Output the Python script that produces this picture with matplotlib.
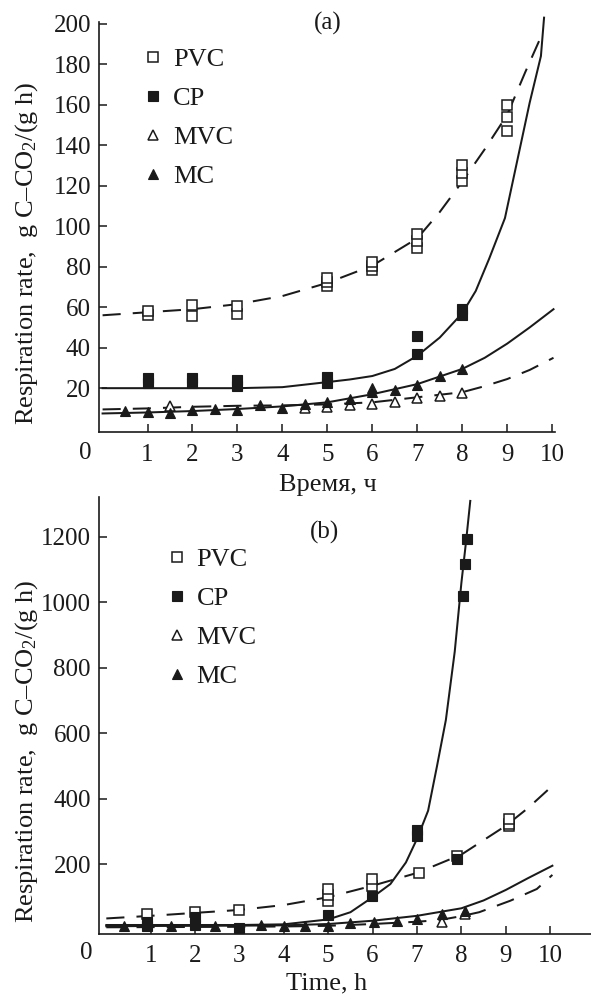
import matplotlib
matplotlib.use("Agg")
import matplotlib.pyplot as plt

plt.rcParams['font.family'] = ['Liberation Serif', 'DejaVu Serif']
plt.rcParams['mathtext.fontset'] = 'custom'
plt.rcParams['mathtext.rm'] = 'Liberation Serif'
plt.rcParams['mathtext.it'] = 'Liberation Serif:italic'

INK = '#1a1a1a'

# ---- panel (a): measured points ----
a_pvc_x = [1, 1, 2, 2, 3, 3, 5, 5, 5, 6, 6, 6, 7, 7, 7, 8, 8, 8, 9, 9, 9]
a_pvc_y = [56, 58, 55.5, 61, 56.5, 60.5, 70.5, 72.5, 74.5, 78.5, 80.5, 82.5,
           89, 92.5, 96, 122.5, 126.5, 130, 147, 154, 160]
a_cp_x = [1, 1, 2, 2, 3, 3, 5, 5, 7, 7, 8, 8]
a_cp_y = [22.5, 25, 22.5, 25, 21, 24, 22.5, 25.5, 37, 46, 56, 59]
a_mvc_x = [1.5, 4.5, 5, 5.5, 6, 6.5, 7, 7.5, 8]
a_mvc_y = [11, 10, 10.7, 11.6, 12.4, 13.2, 15.3, 16.1, 17.6]
a_mc_x = [0.5, 1, 1.5, 2, 2.5, 3, 3.5, 4, 4.5, 5, 5.5, 6, 6, 6.5, 7, 7.5, 8]
a_mc_y = [8.6, 8, 7.5, 9.1, 9.5, 9.1, 11.6, 10.4, 12, 13.2, 14.8, 18, 20,
          18.9, 21.4, 25.8, 29.5]

# ---- panel (a): fitted curves ----
a_pvc_fit_x = [0, 1, 2, 3, 4, 5, 6, 7, 7.5, 8, 8.5, 9, 9.4, 9.8]
a_pvc_fit_y = [56, 57.5, 59, 61.5, 65.5, 72, 80.5, 94, 107, 122, 138, 155, 176, 196]
a_cp_fit_x = [0, 1, 2, 3, 4, 5, 5.5, 6, 6.5, 7, 7.5, 8, 8.3, 8.6, 8.95, 9.5, 9.75, 9.82]
a_cp_fit_y = [20, 20, 20, 20, 20.5, 23, 24.3, 26, 29.5, 36, 45, 57, 68, 84, 104, 161, 184, 203]
a_mvc_fit_x = [0, 1, 2, 3, 4, 5, 6, 7, 8, 8.5, 9, 9.5, 10.03]
a_mvc_fit_y = [9.5, 10, 10.8, 11.3, 11.5, 12, 13, 15.5, 18, 21, 24.5, 29, 35]
a_mc_fit_x = [0, 1, 2, 3, 4, 5, 6, 7, 8, 8.5, 9, 9.5, 10.03]
a_mc_fit_y = [7.5, 8, 8.7, 9.7, 11, 13, 17, 22, 29.5, 35, 42, 50, 59]

# ---- panel (b): measured points ----
b_pvc_x = [0.91, 2.0, 3.0, 4.99, 4.99, 4.99, 5.98, 5.98, 7.04, 7.91, 9.08, 9.08, 9.08]
b_pvc_y = [48.6, 55.6, 61.7, 89, 107.6, 125, 135, 156, 174, 225, 316.5, 323.6, 338.8]
b_cp_x = [0.91, 0.91, 2.0, 2.0, 3.0, 5.0, 5.98, 7.01, 7.01, 7.91, 8.04, 8.08, 8.12]
b_cp_y = [13, 25, 15, 38, 5, 45, 105, 286, 306, 216, 1020, 1117, 1193]
b_mvc_x = [7.57, 8.07]
b_mvc_y = [25, 50]
b_mc_x = [0.4, 1.45, 2.45, 3.49, 4.0, 4.48, 5.0, 5.5, 6.03, 6.54, 6.99, 7.57, 8.07]
b_mc_y = [11, 11, 13, 15, 13, 11, 13, 21, 25, 28, 33, 49, 59]

# ---- panel (b): fitted curves ----
b_pvc_fit_x = [0, 1, 2, 3, 4, 5, 6, 7, 8, 9, 9.5, 10.05]
b_pvc_fit_y = [35, 43, 52, 61, 76, 100, 135, 174, 230, 318, 372, 440]
b_cp_fit_x = [0, 1, 2, 3, 4, 5, 5.5, 6, 6.4, 6.75, 7, 7.25, 7.45, 7.65, 7.85, 8.0, 8.1, 8.2]
b_cp_fit_y = [15, 15, 15, 15, 17, 32, 54, 100, 140, 206, 278, 364, 500, 641, 850, 1060, 1180, 1310]
b_mvc_fit_x = [0, 1, 2, 3, 4, 5, 6, 7, 7.5, 8, 8.4, 9.1, 9.7, 10.05]
b_mvc_fit_y = [8, 8.5, 9, 9.5, 10.5, 12.5, 18, 25, 30, 42, 54, 89, 125, 168]
b_mc_fit_x = [0, 1, 2, 3, 4, 5, 6, 7, 8, 8.5, 9, 9.5, 10.05]
b_mc_fit_y = [11, 12, 12.5, 13, 14, 18, 28, 43, 66, 90, 122, 158, 196]

x_ticks = list(range(1, 11))
a_y_ticks = list(range(20, 201, 20))
b_y_ticks = list(range(200, 1201, 200))
labels = ['PVC', 'CP', 'MVC', 'MC']
ylabel = 'Respiration rate,  g C\u2013CO$_2$/(g h)'

W, H = 591, 999
fig = plt.figure(figsize=(W / 100, H / 100), dpi=100)


def px(x, y):
    # pixel position (from top-left) -> figure fraction
    return x / W, 1 - y / H


def style_axes(ax, pad_x):
    for s in ['top', 'right']:
        ax.spines[s].set_visible(False)
    for s in ['left', 'bottom']:
        ax.spines[s].set_linewidth(1.2)
        ax.spines[s].set_color(INK)
    ax.tick_params(direction='in', length=6, width=1.1, colors=INK, labelsize=18)
    ax.tick_params(axis='x', pad=pad_x)
    ax.tick_params(axis='y', pad=6)
    ax.set_xticks(x_ticks)


def draw(ax, pts, fits):
    lw = 1.45
    (pvx, pvy), (cpx, cpy), (mvx, mvy), (mcx, mcy) = fits
    ax.plot(pvx, pvy, color=INK, lw=lw, dashes=(9, 6), clip_on=False)
    ax.plot(cpx, cpy, color=INK, lw=lw, clip_on=False)
    ax.plot(mvx, mvy, color=INK, lw=lw, dashes=(9, 6), clip_on=False)
    ax.plot(mcx, mcy, color=INK, lw=lw, clip_on=False)
    (pvx, pvy), (cpx, cpy), (mvx, mvy), (mcx, mcy) = pts
    h1, = ax.plot(pvx, pvy, 's', ms=7, mfc='white', mec=INK, mew=1.1, clip_on=False, zorder=3)
    h2, = ax.plot(cpx, cpy, 's', ms=7.5, mfc=INK, mec=INK, mew=0.8, clip_on=False, zorder=4)
    h3, = ax.plot(mvx, mvy, '^', ms=7, mfc='white', mec=INK, mew=1.1, clip_on=False, zorder=3)
    h4, = ax.plot(mcx, mcy, '^', ms=7.5, mfc=INK, mec=INK, mew=0.8, clip_on=False, zorder=4)
    return [h1, h2, h3, h4]


def add_legend(ax, handles, left, top):
    leg = ax.legend(handles, labels, loc='upper left', bbox_to_anchor=px(left, top),
                    bbox_transform=fig.transFigure, frameon=False, fontsize=19,
                    borderpad=0, borderaxespad=0, handlelength=0.8,
                    handletextpad=0.35, labelspacing=0.58, numpoints=1)
    for t in leg.get_texts():
        t.set_color(INK)


# panel (a)
l, b = px(99.3, 431.7)
axa = fig.add_axes([l, b, (555.3 - 99.3) / W, (431.7 - 21.7) / H])
ha = draw(
    axa,
    [(a_pvc_x, a_pvc_y), (a_cp_x, a_cp_y), (a_mvc_x, a_mvc_y), (a_mc_x, a_mc_y)],
    [(a_pvc_fit_x, a_pvc_fit_y), (a_cp_fit_x, a_cp_fit_y),
     (a_mvc_fit_x, a_mvc_fit_y), (a_mc_fit_x, a_mc_fit_y)])
axa.set_xlim(-0.073, 10.07)
axa.set_ylim(-1.5, 201)
axa.set_yticks(a_y_ticks)
style_axes(axa, 9.2)
add_legend(axa, ha, 142.7, 48)

# panel (b)
l, b = px(99.3, 934)
axb = fig.add_axes([l, b, (591 - 99.3) / W, (934 - 497) / H])
hb = draw(
    axb,
    [(b_pvc_x, b_pvc_y), (b_cp_x, b_cp_y), (b_mvc_x, b_mvc_y), (b_mc_x, b_mc_y)],
    [(b_pvc_fit_x, b_pvc_fit_y), (b_cp_fit_x, b_cp_fit_y),
     (b_mvc_fit_x, b_mvc_fit_y), (b_mc_fit_x, b_mc_fit_y)])
axb.set_xlim(-0.158, 10.92)
axb.set_ylim(-12.5, 1322)
axb.set_yticks(b_y_ticks)
style_axes(axb, 8)
add_legend(axb, hb, 166.1, 548)

# texts
fig.text(*px(85, 453), '0', fontsize=18, color=INK, ha='center', va='center')
fig.text(*px(86, 953), '0', fontsize=18, color=INK, ha='center', va='center')
fig.text(*px(327.5, 23), '(a)', fontsize=18, color=INK, ha='center', va='center')
fig.text(*px(325, 532), '(b)', fontsize=18, color=INK, ha='center', va='center')
fig.text(*px(328, 485), 'Время, ч', fontsize=19, color=INK, ha='center', va='center')
fig.text(*px(327, 983), 'Time, h', fontsize=19, color=INK, ha='center', va='center')
fig.text(*px(27, 253.5), ylabel, fontsize=19, color=INK, ha='center', va='center', rotation=90)
fig.text(*px(27, 751), ylabel, fontsize=19, color=INK, ha='center', va='center', rotation=90)

fig.savefig('out.png', dpi=100)
